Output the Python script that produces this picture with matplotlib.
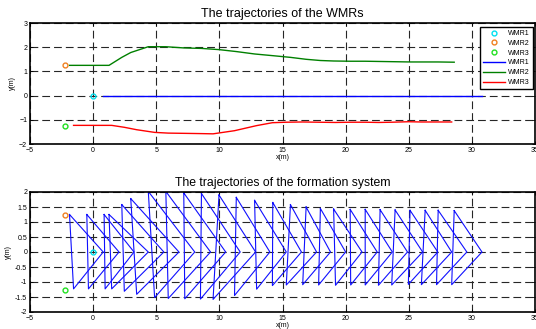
import matplotlib
matplotlib.use("Agg")
import matplotlib.pyplot as plt
import numpy as np

plt.rcParams['font.family'] = ['Liberation Sans', 'DejaVu Sans']

# leader (WMR1) positions at the sampled instants
leader_x = [0.8, 2.05, 3.24, 4.37, 5.6, 6.8, 8.05, 9.3, 10.5, 11.65, 12.87, 14.0, 15.3,
            16.5, 17.7, 18.8, 20.0, 21.3, 22.5, 23.7, 24.9, 26.1, 27.3, 28.4, 29.6, 30.8]
leader_y = [0.0] * len(leader_x)

# follower WMR2 (upper vertex)
wmr2_x = [-1.87, -0.5, 0.87, 1.26, 2.27, 2.98, 4.37, 5.76, 7.18, 8.58, 9.97, 11.34, 12.79,
          14.23, 15.63, 16.87, 18.0, 19.05, 20.36, 21.55, 22.73, 23.92, 25.1, 26.3, 27.33, 28.6]
wmr2_y = [1.25, 1.25, 1.25, 1.25, 1.58, 1.78, 2.02, 2.02, 1.97, 1.95, 1.9, 1.82, 1.72,
          1.65, 1.58, 1.5, 1.45, 1.43, 1.42, 1.42, 1.41, 1.4, 1.39, 1.39, 1.39, 1.38]

# follower WMR3 (lower vertex)
wmr3_x = [-1.55, -0.37, 0.95, 1.47, 2.47, 3.45, 4.87, 5.95, 7.26, 8.5, 9.5, 11.2, 12.95,
          14.2, 15.3, 16.6, 17.86, 19.2, 20.4, 21.55, 22.6, 23.65, 24.97, 26.0, 27.2, 28.4]
wmr3_y = [-1.23, -1.23, -1.23, -1.23, -1.31, -1.41, -1.52, -1.55, -1.56, -1.57, -1.58, -1.45, -1.24,
          -1.12, -1.1, -1.09, -1.1, -1.11, -1.1, -1.1, -1.11, -1.1, -1.08, -1.09, -1.09, -1.09]

# initial positions
init_x = [0.0, -2.2, -2.2]
init_y = [0.0, 1.25, -1.25]
names = ['WMR1', 'WMR2', 'WMR3']
marker_colors = ['#00e0f0', '#f08020', '#20e020']
line_colors = ['#0000ff', '#008000', '#ff0000']

fig = plt.figure(figsize=(5.36, 3.29), dpi=100)
ax1 = fig.add_axes([30 / 536, 1 - 144 / 329, 505 / 536, 121 / 329])
ax2 = fig.add_axes([30 / 536, 1 - 312 / 329, 505 / 536, 120 / 329])

grid_kw = dict(color='0.15', linestyle=(0, (7, 3.6)), linewidth=0.8)

# top: trajectories
for x0, y0, c, n in zip(init_x, init_y, marker_colors, names):
    ax1.plot([x0], [y0], 'o', mfc='none', mec=c, ms=3.5, mew=1.0, label=n, zorder=4)
ax1.plot(leader_x, leader_y, color=line_colors[0], lw=1.0, label='WMR1')
ax1.plot(wmr2_x, wmr2_y, color=line_colors[1], lw=1.0, label='WMR2')
ax1.plot(wmr3_x, wmr3_y, color=line_colors[2], lw=1.0, label='WMR3')
ax1.set_xlim(-5, 35)
ax1.set_ylim(-2, 3)
ax1.set_yticks(np.arange(-2, 4, 1))
ax1.set_title('The trajectories of the WMRs', fontsize=9, pad=4)
leg = ax1.legend(loc='upper right', bbox_to_anchor=(533 / 536, 1 - 27 / 329),
                 bbox_transform=fig.transFigure, borderaxespad=0, fontsize=5,
                 fancybox=False, edgecolor='k', framealpha=1, handlelength=3.2,
                 labelspacing=0.4, borderpad=0.45, handletextpad=0.4)
leg.get_frame().set_linewidth(1.0)

# bottom: formation triangles
for i in range(len(leader_x)):
    tx = [wmr2_x[i], leader_x[i], wmr3_x[i], wmr2_x[i]]
    ty = [wmr2_y[i], leader_y[i], wmr3_y[i], wmr2_y[i]]
    ax2.plot(tx, ty, color='#1010ff', lw=0.8)
for x0, y0, c in zip(init_x, init_y, marker_colors):
    ax2.plot([x0], [y0], 'o', mfc='none', mec=c, ms=3.5, mew=1.0, zorder=4)
ax2.set_xlim(-5, 35)
ax2.set_ylim(-2, 2)
ax2.set_yticks(np.arange(-2, 2.5, 0.5))
ax2.set_yticklabels(['-2', '-1.5', '-1', '-0.5', '0', '0.5', '1', '1.5', '2'])
ax2.set_title('The trajectories of the formation system', fontsize=8.8, pad=4)

for ax in (ax1, ax2):
    ax.set_xticks(np.arange(-5, 40, 5))
    ax.grid(True, **grid_kw)
    ax.set_axisbelow(True)
    ax.tick_params(direction='in', length=2, width=0.6, labelsize=5, pad=2,
                   top=True, right=True)
    for s in ax.spines.values():
        s.set_linewidth(1.2)
    ax.set_xlabel('x(m)', fontsize=5, labelpad=0)
    ax.set_ylabel('y(m)', fontsize=5, labelpad=2)

fig.savefig('out.png', dpi=100)
